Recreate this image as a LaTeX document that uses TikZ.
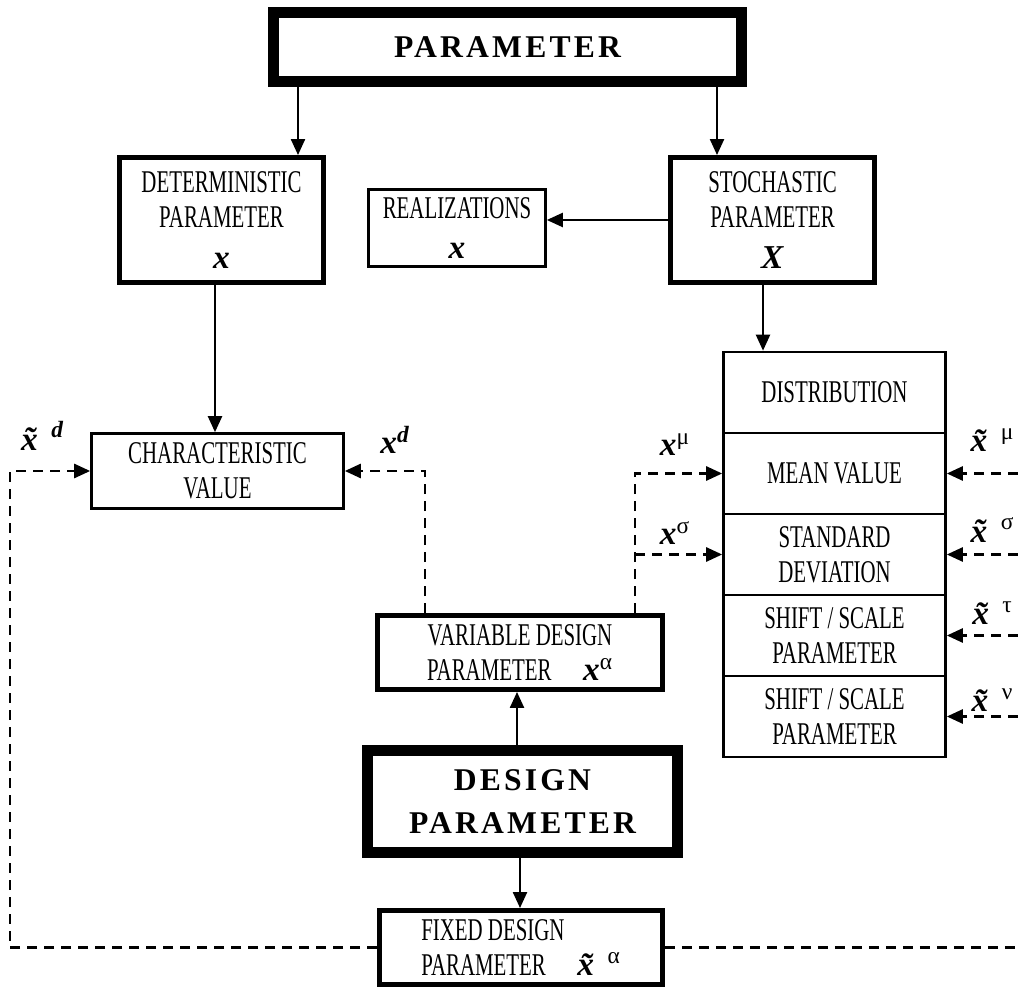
\documentclass[tikz,border=0pt]{standalone}
\usepackage{amsmath}
\usepackage{fontspec}
\setmainfont{Liberation Serif}
\newfontfamily\narrowserif[FakeStretch=0.66]{Liberation Serif}
\newfontfamily\spacedserif[LetterSpace=10]{Liberation Serif}
\usetikzlibrary{arrows.meta}

\newcommand{\bx}{\textbf{\textit{x}}}
\newcommand{\btx}{\textbf{\textit{x^^^^0303}}}
\newcommand{\bX}{\textbf{\textit{X}}}
\newcommand{\boxtext}{\narrowserif\fontsize{18}{20}\selectfont}
\newcommand{\headtext}{\spacedserif\bfseries\fontsize{18}{25}\selectfont}
\newcommand{\lbltext}{\fontsize{19}{20}\selectfont}

\begin{document}
\begin{tikzpicture}[
	thinbox/.style={draw, line width=1.5pt, inner sep=0pt, align=center, font=\boxtext},
	midbox/.style={draw, line width=2.8pt, inner sep=0pt, align=center, font=\boxtext},
	heavybox/.style={draw, line width=6pt, inner sep=0pt, align=center, font=\headtext},
	arr/.style={-{Triangle[length=3.2mm, width=2.8mm]}, line width=1.3pt},
	dashline/.style={line width=1.5pt, dash pattern=on 2mm off 1.4mm},
	dasharr/.style={dashline, -{Triangle[length=3.2mm, width=2.8mm]}},
	lbl/.style={inner sep=0pt, font=\lbltext}]
	\useasboundingbox (0, 0) rectangle (20.36, 19.8);
	% Boxes:
	\node[heavybox, minimum width=9.36cm, minimum height=1.38cm](par) at (10.15, 18.86){PARAMETER};
	\node[midbox, minimum width=4.08cm, minimum height=2.5cm](det) at (4.43, 15.4){DETERMINISTIC\\PARAMETER\\[3pt]{\normalfont\lbltext\bx}};
	\node[thinbox, minimum width=3.54cm, minimum height=1.54cm](real) at (9.14, 15.24){REALIZATIONS\\[3pt]{\normalfont\lbltext\bx}};
	\node[midbox, minimum width=4.08cm, minimum height=2.5cm](stoch) at (15.45, 15.4){STOCHASTIC\\PARAMETER\\[3pt]{\normalfont\lbltext\bX}};
	\node[thinbox, minimum width=5.04cm, minimum height=1.5cm](char) at (4.35, 10.38){CHARACTERISTIC\\VALUE};
	\node[thinbox, minimum width=4.44cm, minimum height=1.62cm](dist) at (16.69, 11.95){DISTRIBUTION};
	\node[thinbox, minimum width=4.44cm, minimum height=1.62cm](mean) at (16.69, 10.33){MEAN VALUE};
	\node[thinbox, minimum width=4.44cm, minimum height=1.62cm](std) at (16.69, 8.71){STANDARD\\DEVIATION};
	\node[thinbox, minimum width=4.44cm, minimum height=1.62cm](shift) at (16.69, 7.09){SHIFT / SCALE\\PARAMETER};
	\node[thinbox, minimum width=4.44cm, minimum height=1.62cm](scale) at (16.69, 5.47){SHIFT / SCALE\\PARAMETER};
	\node[midbox, minimum width=5.7cm, minimum height=1.48cm](var) at (10.4, 6.75){VARIABLE DESIGN\\PARAMETER\quad{\normalfont\lbltext$\mbox{\bx}^{\text{α}}$}};
	\node[heavybox, minimum width=6.2cm, minimum height=2.04cm](des) at (10.45, 3.77){DESIGN\\PARAMETER};
	\node[midbox, minimum width=5.66cm, minimum height=1.48cm, align=left](fix) at (10.42, 0.85){FIXED DESIGN\\PARAMETER\quad{\normalfont\lbltext$\mbox{\btx}^{\text{α}}$}};
	% Solid arrows:
	\draw[arr] (par.south -| 5.96,0) -- (det.north -| 5.96,0);
	\draw[arr] (par.south -| 14.34,0) -- (stoch.north -| 14.34,0);
	\draw[arr] (stoch.west) -- (stoch.west -| real.east);
	\draw[arr] (det.south -| 4.3,0) -- (char.north -| 4.3,0);
	\draw[arr] (stoch.south -| 15.26,0) -- (dist.north -| 15.26,0);
	\draw[arr] (des.north -| 10.34,0) -- (var.south -| 10.34,0);
	\draw[arr] (des.south -| 10.4,0) -- (fix.north -| 10.4,0);
	% Dashed feedback lines:
	\coordinate (lc) at (0.2, 10.38);
	\coordinate (rc) at (20.36, 0.85);
	\draw[dasharr] (fix.west) -| (lc) -- (char.west);
	\draw[dashline] (fix.east) -- (rc);
	\draw[dasharr] (var.north -| 8.5,0) |- (char.east);
	\draw[dasharr] (var.north -| 12.7,0) |- (mean.west);
	\draw[dasharr] (std.west -| 12.7,0) -- (std.west);
	\draw[dasharr] (mean.east -| rc) -- (mean.east);
	\draw[dasharr] (std.east -| rc) -- (std.east);
	\draw[dasharr] (shift.east -| rc) -- (shift.east);
	\draw[dasharr] (scale.east -| rc) -- (scale.east);
	% Labels:
	\node[lbl](ltd) at (0.85, 11.08){$\mbox{\btx}^{\text{\bfseries\itshape d}}$};
	\node[lbl](ld) at (7.9, 11.0){$\mbox{\bx}^{\text{\bfseries\itshape d}}$};
	\node[lbl](lmu) at (13.5, 10.9){$\mbox{\bx}^{\text{μ}}$};
	\node[lbl](lsig) at (13.5, 9.14){$\mbox{\bx}^{\text{σ}}$};
	\node[lbl](ltmu) at (19.85, 11.0){$\mbox{\btx}^{\text{μ}}$};
	\node[lbl](ltsig) at (19.85, 9.2){$\mbox{\btx}^{\text{σ}}$};
	\node[lbl](lttau) at (19.85, 7.54){$\mbox{\btx}^{\text{τ}}$};
	\node[lbl](ltnu) at (19.85, 5.8){$\mbox{\btx}^{\text{ν}}$};
\end{tikzpicture}
\end{document}
